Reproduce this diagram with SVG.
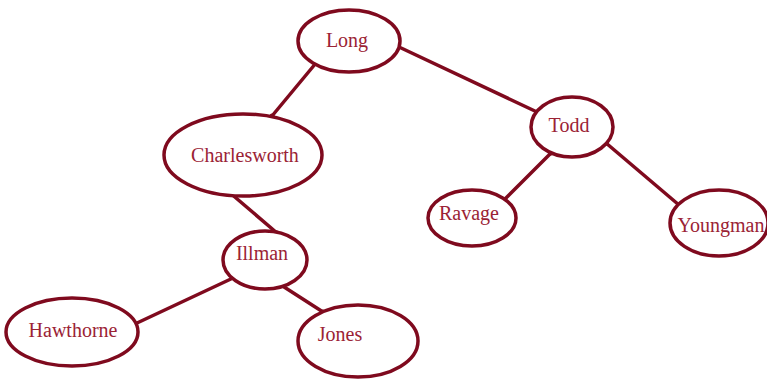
<svg xmlns="http://www.w3.org/2000/svg" width="767" height="379" viewBox="0 0 767 379">
  <style>
    .node ellipse { fill: #ffffff; stroke: #7f0a1e; stroke-width: 3.5; }
    .node text { font-family: "Liberation Serif", "Times New Roman", serif; font-size: 20px; fill: #9b2335; text-anchor: middle; dominant-baseline: central; }
    #edges line { stroke: #7f0a1e; stroke-width: 3.5; stroke-linecap: round; }
    #edges circle { fill: #7f0a1e; }
  </style>
  <rect width="767" height="379" fill="#ffffff"/>
  <g id="edges">
    <line x1="316" y1="63" x2="272" y2="116"/>
    <line x1="399" y1="47" x2="537" y2="112"/>
    <line x1="229" y1="192" x2="277" y2="233"/>
    <line x1="233" y1="278" x2="137" y2="323"/>
    <line x1="281" y1="285" x2="323" y2="312"/>
    <line x1="551" y1="153" x2="503" y2="201"/>
    <line x1="606" y1="143" x2="679" y2="205"/>
    <circle cx="316" cy="63" r="2.5"/>
    <circle cx="272" cy="116" r="2.5"/>
    <circle cx="229" cy="192" r="2.5"/>
    <circle cx="277" cy="233" r="2.5"/>
    <circle cx="281" cy="285" r="2.5"/>
    <circle cx="323" cy="312" r="2.5"/>
    <circle cx="551" cy="153" r="2.5"/>
    <circle cx="503" cy="201" r="2.5"/>
    <circle cx="606" cy="143" r="2.5"/>
  </g>
  <g id="long" class="node">
    <ellipse cx="349" cy="41" rx="51" ry="31"/>
    <text x="347" y="40">Long</text>
  </g>
  <g id="charlesworth" class="node">
    <ellipse cx="243" cy="155" rx="79" ry="41"/>
    <text x="245" y="155">Charlesworth</text>
  </g>
  <g id="illman" class="node">
    <ellipse cx="265" cy="260" rx="42" ry="29"/>
    <text x="262" y="253">Illman</text>
  </g>
  <g id="hawthorne" class="node">
    <ellipse cx="72" cy="332" rx="66" ry="34"/>
    <text x="73" y="330">Hawthorne</text>
  </g>
  <g id="jones" class="node">
    <ellipse cx="358" cy="341" rx="60" ry="36"/>
    <text x="340" y="334">Jones</text>
  </g>
  <g id="todd" class="node">
    <ellipse cx="572" cy="127" rx="41" ry="30"/>
    <text x="569" y="125">Todd</text>
  </g>
  <g id="ravage" class="node">
    <ellipse cx="472" cy="218" rx="44" ry="28"/>
    <text x="469" y="213">Ravage</text>
  </g>
  <g id="youngman" class="node">
    <ellipse cx="719" cy="223" rx="49" ry="33"/>
    <text x="721" y="225">Youngman</text>
  </g>
</svg>
